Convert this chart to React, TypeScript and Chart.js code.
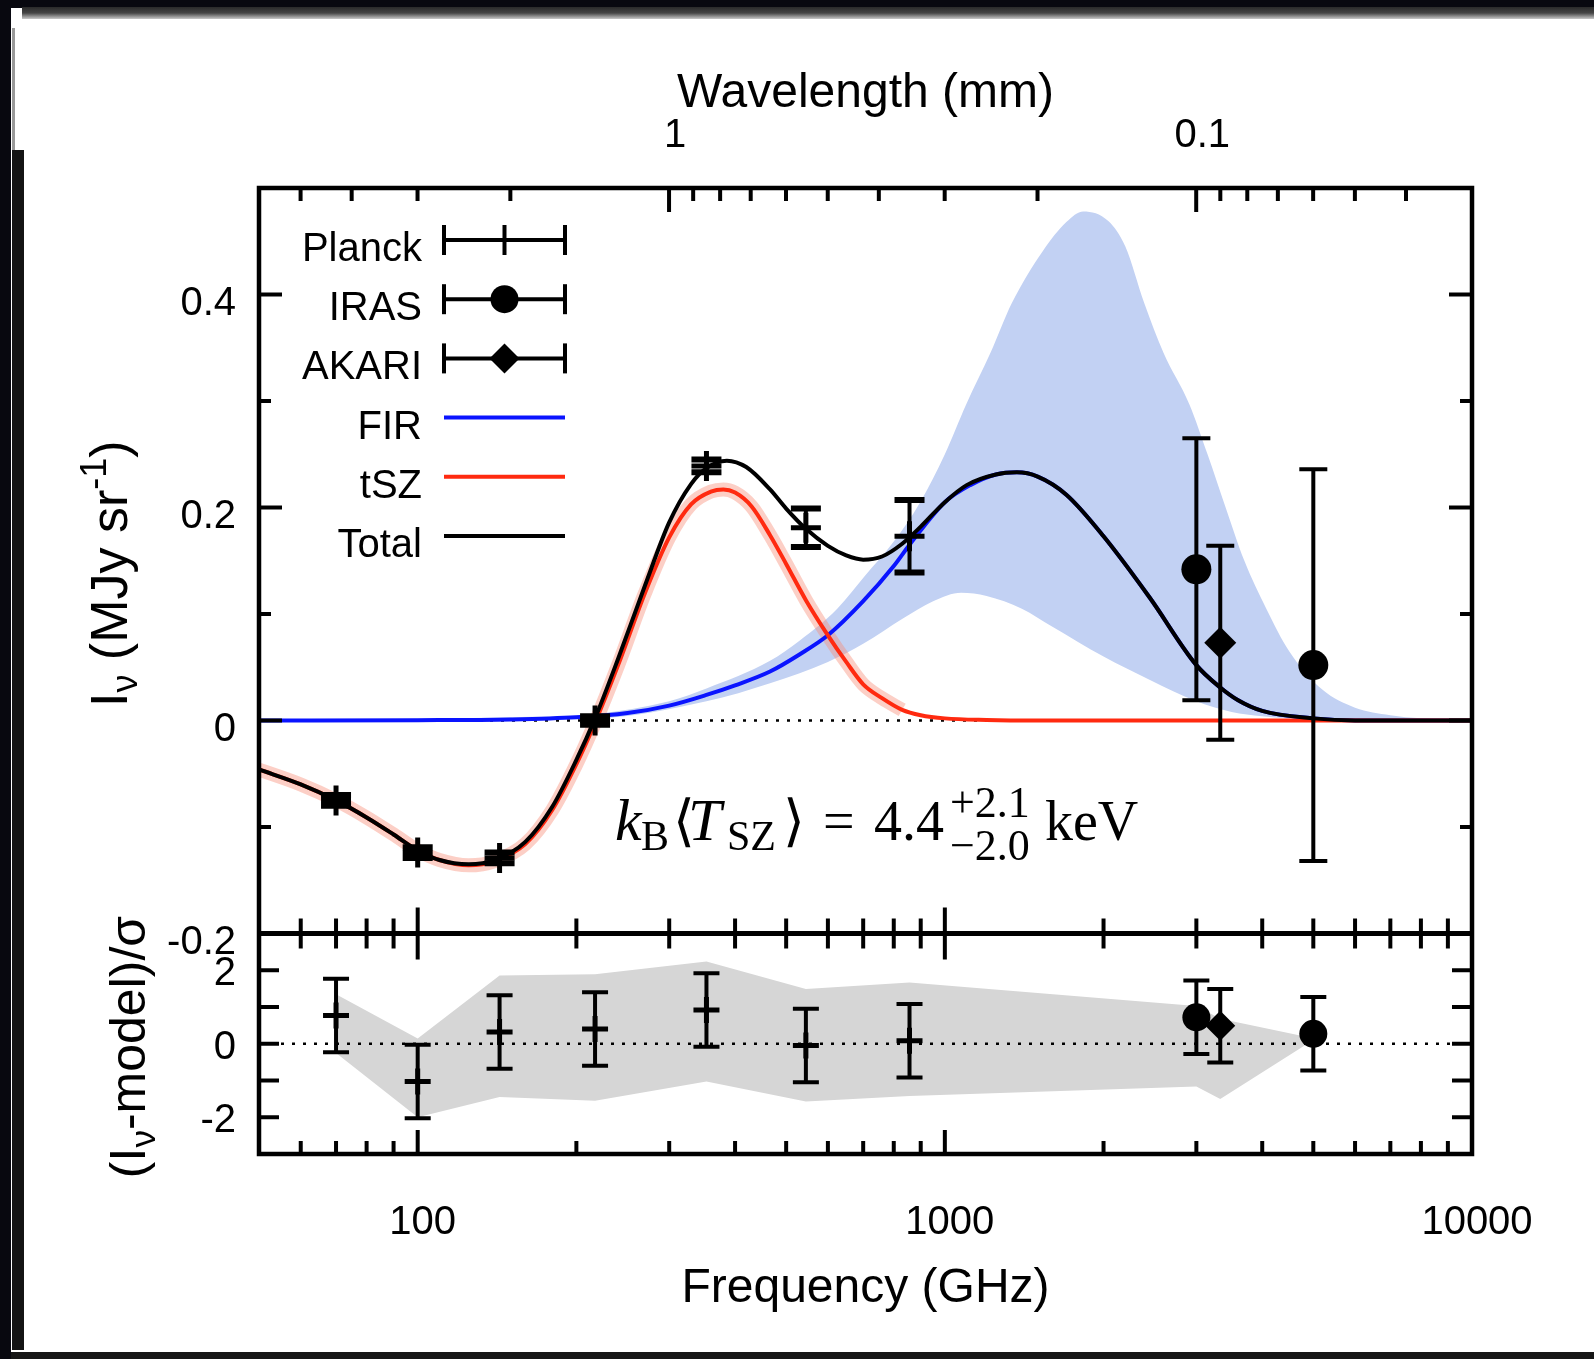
import React, { useEffect, useRef } from "react";
import { Chart, registerables } from "chart.js";
Chart.register(...registerables);

const W = 1594;
const H = 1359;
const SANS = "'Liberation Sans', Arial, Helvetica, sans-serif";
const SERIF = "'Liberation Serif', 'Times New Roman', 'DejaVu Serif', serif";
const MATH = "'Liberation Serif', 'DejaVu Serif', 'DejaVu Sans', serif";

// ---------- axes ----------
const freqMin = 50;
const freqMax = 10000;
const freqTickLabels = [100, 1000, 10000];
const freqMajorTicks = [100, 1000];
const freqMinorTicks = [60, 70, 80, 90, 200, 300, 400, 500, 600, 700, 800, 900, 2000, 3000, 4000, 5000, 6000, 7000, 8000, 9000];
const wlTickValues = [1, 0.1]; // mm
const wlTickLabels = ["1", "0.1"];
const wlMinorTicks = [5, 4, 3, 2, 0.9, 0.8, 0.7, 0.6, 0.5, 0.4, 0.3, 0.2, 0.09, 0.08, 0.07, 0.06, 0.05, 0.04];
const C_MM_GHZ = 299.792458;
const yTopMin = -0.2;
const yTopMax = 0.5;
const yTopLabels = [-0.2, 0, 0.2, 0.4];
const yTopMinor = [-0.1, 0.1, 0.3];
const yResMin = -3;
const yResMax = 3;
const yResLabels = [-2, 0, 2];
const yResMinor = [-1, 1];

// ---------- data points ----------
const planckFreq = [70, 100, 143, 217, 353, 545, 857];
const planckI = [-0.075, -0.124, -0.129, 0.0, 0.239, 0.181, 0.173];
const planckErr = [0.005, 0.005, 0.005, 0.004, 0.006, 0.018, 0.034];
const irasFreq = [3000, 5000];
const irasI = [0.142, 0.052];
const irasErr = [0.123, 0.184];
const akariFreq = [3330];
const akariI = [0.073];
const akariErr = [0.091];

// residuals (I - model)/sigma
const planckRes = [0.77, -1.03, 0.32, 0.4, 0.92, -0.05, 0.08];
const irasRes = [0.72, 0.27];
const akariRes = [0.49];
const resErr = 1;
const resBandFreq = [70, 100, 143, 217, 353, 545, 857, 3000, 3330, 5000];
const resBandUpper = [1.35, 0.14, 1.86, 1.89, 2.24, 1.49, 1.67, 1.03, 0.68, 0.15];
const resBandLower = [-0.25, -2.0, -1.45, -1.55, -1.03, -1.57, -1.42, -1.16, -1.5, 0.1];

// ---------- model curves ----------
const tszFreq = [50, 60, 70, 80, 90, 100, 110, 125, 140, 160, 180, 200, 217, 240, 270, 300, 330, 360, 380, 400, 430, 466, 500, 545, 600, 650, 700, 760, 830, 900, 1000, 1200, 1500, 2000, 10000];
const tszI = [-0.046, -0.06, -0.075, -0.091, -0.107, -0.122, -0.131, -0.136, -0.132, -0.116, -0.084, -0.041, -0.002, 0.052, 0.12, 0.172, 0.203, 0.215, 0.217, 0.214, 0.201, 0.174, 0.147, 0.113, 0.08, 0.055, 0.034, 0.021, 0.01, 0.005, 0.002, 0.0005, 0, 0, 0];
const tszHaloCount = 29; // the uncertainty halo is only visible where the tSZ signal is

const firFreq = [50, 100, 150, 200, 250, 300, 353, 400, 466, 530, 600, 700, 800, 860, 1000, 1117, 1250, 1370, 1500, 1700, 2000, 2450, 3000, 3330, 3600, 4000, 5000, 6000, 10000];
const firI = [0.0, 0.0003, 0.001, 0.003, 0.007, 0.014, 0.024, 0.033, 0.046, 0.062, 0.08, 0.112, 0.145, 0.166, 0.205, 0.221, 0.231, 0.233, 0.229, 0.212, 0.173, 0.115, 0.052, 0.031, 0.019, 0.009, 0.002, 0.0, 0.0];

const totalFreq = [50, 60, 70, 80, 90, 100, 110, 125, 140, 160, 180, 200, 217, 240, 270, 300, 330, 353, 386, 420, 466, 500, 545, 600, 650, 700, 760, 830, 900, 1000, 1100, 1250, 1370, 1500, 1700, 2000, 2450, 3000, 3330, 3600, 4000, 5000, 6000, 10000];
const totalI = [-0.046, -0.06, -0.075, -0.091, -0.107, -0.122, -0.131, -0.135, -0.131, -0.114, -0.081, -0.037, 0.002, 0.058, 0.127, 0.186, 0.222, 0.237, 0.244, 0.238, 0.217, 0.199, 0.18, 0.164, 0.155, 0.151, 0.154, 0.166, 0.182, 0.205, 0.221, 0.231, 0.233, 0.229, 0.212, 0.173, 0.115, 0.052, 0.031, 0.019, 0.009, 0.002, 0.0, 0.0];

const firBandFreqU = [50, 150, 217, 300, 353, 466, 530, 625, 703, 800, 898, 1000, 1098, 1220, 1340, 1530, 1700, 1830, 2042, 2200, 2389, 2600, 2909, 3150, 3404, 3700, 4072, 4500, 5200, 6000, 7000, 8000, 10000];
const firBandU = [0.0005, 0.003, 0.006, 0.018, 0.03, 0.056, 0.075, 0.105, 0.135, 0.168, 0.205, 0.25, 0.297, 0.345, 0.392, 0.44, 0.468, 0.478, 0.469, 0.445, 0.392, 0.345, 0.297, 0.25, 0.201, 0.15, 0.105, 0.065, 0.029, 0.012, 0.005, 0.002, 0.0];
const firBandFreqL = [50, 217, 353, 466, 600, 700, 834, 950, 1074, 1200, 1400, 1600, 2000, 2450, 3000, 3500, 4000, 5000, 10000];
const firBandL = [0.0, 0.002, 0.018, 0.035, 0.055, 0.072, 0.096, 0.112, 0.12, 0.117, 0.105, 0.088, 0.06, 0.038, 0.018, 0.008, 0.004, 0.001, 0.0];

const legendLabels = ["Planck", "IRAS", "AKARI", "FIR", "tSZ", "Total"];

// ---------- helpers ----------
const mk = (xs: number[], ys: number[]) => xs.map((x, i) => ({ x, y: ys[i] }));

const BLUE = "#0a14ff";
const RED = "#ff2a10";

function lineDs(label: string, data: any[], color: string, width: number, order: number, extra: any = {}) {
  return {
    label,
    data,
    borderColor: color,
    borderWidth: width,
    pointRadius: 0,
    fill: false,
    cubicInterpolationMode: "monotone",
    order,
    clip: 0,
    xAxisID: "x",
    yAxisID: "y",
    ...extra,
  };
}

function pointDs(label: string, data: any[], style: string, radius: number, yAxisID: string, order: number) {
  const isCross = style === "cross";
  return {
    label,
    data,
    showLine: false,
    pointStyle: style,
    pointRadius: radius,
    pointBorderWidth: isCross ? 5 : 0,
    pointBorderColor: "#000",
    pointBackgroundColor: "#000",
    order,
    xAxisID: "x",
    yAxisID,
  };
}

type Seg = { t: string; font: string; dy?: number };
function drawSegs(ctx: CanvasRenderingContext2D, segs: Seg[], x: number, y: number, draw = true) {
  let cx = x;
  for (const s of segs) {
    ctx.font = s.font;
    if (draw) ctx.fillText(s.t, cx, y + (s.dy || 0));
    cx += ctx.measureText(s.t).width;
  }
  return cx - x;
}

const pagePlugin = {
  id: "page",
  beforeDraw(chart: any) {
    const ctx = chart.ctx as CanvasRenderingContext2D;
    ctx.save();
    ctx.fillStyle = "#08080f";
    ctx.fillRect(0, 0, W, H);
    ctx.fillStyle = "#ffffff";
    ctx.fillRect(11, 8, W - 11, 1345);
    const g = ctx.createLinearGradient(0, 7, 0, 19);
    g.addColorStop(0, "#2a2a2a");
    g.addColorStop(0.5, "#454545");
    g.addColorStop(1, "#c8c8c8");
    ctx.fillStyle = g;
    ctx.fillRect(22, 7, W - 22, 12);
    ctx.fillStyle = "#9a9a9a";
    ctx.fillRect(12, 28, 3, 125);
    ctx.fillStyle = "#141414";
    ctx.fillRect(12, 150, 12, 1200);
    ctx.fillStyle = "#161616";
    ctx.fillRect(11, 1352, W - 11, 7);
    ctx.restore();
  },
};

const errorBarPlugin = {
  id: "errbars",
  afterDatasetsDraw(chart: any) {
    const ctx = chart.ctx as CanvasRenderingContext2D;
    const xs = chart.scales.x;
    const ys = chart.scales.y;
    const yr = chart.scales.y2;
    ctx.save();
    ctx.strokeStyle = "#000";
    ctx.lineCap = "butt";
    const bar = (f: number, v: number, e: number, sc: any, cap: number, capW: number) => {
      const px = xs.getPixelForValue(f);
      const t = sc.getPixelForValue(v + e);
      const b = sc.getPixelForValue(v - e);
      ctx.lineWidth = 4;
      ctx.beginPath();
      ctx.moveTo(px, t);
      ctx.lineTo(px, b);
      ctx.stroke();
      ctx.lineWidth = capW;
      ctx.beginPath();
      ctx.moveTo(px - cap, t);
      ctx.lineTo(px + cap, t);
      ctx.moveTo(px - cap, b);
      ctx.lineTo(px + cap, b);
      ctx.stroke();
    };
    planckFreq.forEach((f, i) => bar(f, planckI[i], planckErr[i], ys, 15, 6));
    irasFreq.forEach((f, i) => bar(f, irasI[i], irasErr[i], ys, 14, 4));
    akariFreq.forEach((f, i) => bar(f, akariI[i], akariErr[i], ys, 14, 4));
    planckFreq.forEach((f, i) => bar(f, planckRes[i], resErr, yr, 13, 4));
    irasFreq.forEach((f, i) => bar(f, irasRes[i], resErr, yr, 13, 4));
    akariFreq.forEach((f, i) => bar(f, akariRes[i], resErr, yr, 13, 4));
    ctx.restore();
  },
};

const framePlugin = {
  id: "frame",
  afterDraw(chart: any) {
    const ctx = chart.ctx as CanvasRenderingContext2D;
    const xs = chart.scales.x;
    const xt = chart.scales.xTop;
    const ys = chart.scales.y;
    const yr = chart.scales.y2;
    const L = xs.left;
    const R = xs.right;
    const T = ys.top;
    const S = ys.bottom;
    const B = yr.bottom;
    ctx.save();
    ctx.strokeStyle = "#000";
    ctx.fillStyle = "#000";
    ctx.lineCap = "butt";
    const seg = (x1: number, y1: number, x2: number, y2: number) => {
      ctx.beginPath();
      ctx.moveTo(x1, y1);
      ctx.lineTo(x2, y2);
      ctx.stroke();
    };
    ctx.lineWidth = 4;
    for (const f of freqMinorTicks) {
      const px = xs.getPixelForValue(f);
      seg(px, S - 15, px, S + 15);
      seg(px, B, px, B - 13);
    }
    for (const f of freqMajorTicks) {
      const px = xs.getPixelForValue(f);
      seg(px, S - 26, px, S + 26);
      seg(px, B, px, B - 24);
    }
    for (const w of wlMinorTicks) {
      const px = xt.getPixelForValue(C_MM_GHZ / w);
      seg(px, T, px, T + 13);
    }
    for (const w of wlTickValues) {
      const px = xt.getPixelForValue(C_MM_GHZ / w);
      seg(px, T, px, T + 24);
    }
    for (const v of yTopLabels) {
      const py = ys.getPixelForValue(v);
      seg(L, py, L + 23, py);
      seg(R, py, R - 23, py);
    }
    for (const v of yTopMinor) {
      const py = ys.getPixelForValue(v);
      seg(L, py, L + 12, py);
      seg(R, py, R - 12, py);
    }
    for (const v of [...yResLabels, ...yResMinor]) {
      const py = yr.getPixelForValue(v);
      seg(L, py, L + 20, py);
      seg(R, py, R - 20, py);
    }
    ctx.lineWidth = 4.5;
    ctx.strokeRect(L, T, R - L, B - T);
    ctx.lineWidth = 5;
    seg(L, S, R, S);

    // legend
    ctx.textAlign = "right";
    ctx.textBaseline = "alphabetic";
    ctx.font = `40px ${SANS}`;
    const sx0 = 444;
    const sx1 = 565;
    const sxc = (sx0 + sx1) / 2;
    legendLabels.forEach((name, i) => {
      const yy = 240 + i * 59.2;
      ctx.fillStyle = "#000";
      ctx.fillText(name, 422, yy + 21);
      ctx.lineWidth = 4;
      if (i < 3) {
        ctx.strokeStyle = "#000";
        seg(sx0, yy, sx1, yy);
        seg(sx0, yy - 15, sx0, yy + 15);
        seg(sx1, yy - 15, sx1, yy + 15);
        if (i === 0) seg(sxc, yy - 15, sxc, yy + 15);
        if (i === 1) {
          ctx.beginPath();
          ctx.arc(sxc, yy, 14, 0, Math.PI * 2);
          ctx.fill();
        }
        if (i === 2) {
          ctx.beginPath();
          ctx.moveTo(sxc, yy - 15);
          ctx.lineTo(sxc + 15, yy);
          ctx.lineTo(sxc, yy + 15);
          ctx.lineTo(sxc - 15, yy);
          ctx.closePath();
          ctx.fill();
        }
      } else {
        ctx.strokeStyle = i === 3 ? BLUE : i === 4 ? RED : "#000";
        seg(sx0, yy, sx1, yy);
      }
    });

    // axis titles
    ctx.fillStyle = "#000";
    ctx.textAlign = "center";
    ctx.font = `48px ${SANS}`;
    ctx.fillText("Frequency (GHz)", (L + R) / 2, 1302);
    ctx.fillText("Wavelength (mm)", (L + R) / 2, 107);

    ctx.textAlign = "left";
    const f52 = `52px ${SANS}`;
    const f36 = `36px ${SANS}`;
    const yTitle: Seg[] = [
      { t: "I", font: f52 },
      { t: "ν", font: f36, dy: 10 },
      { t: " (MJy sr", font: f52 },
      { t: "-1", font: f36, dy: -21 },
      { t: ")", font: f52 },
    ];
    ctx.save();
    ctx.translate(127, (T + S) / 2 + 13);
    ctx.rotate(-Math.PI / 2);
    let w = drawSegs(ctx, yTitle, 0, 0, false);
    drawSegs(ctx, yTitle, -w / 2, 0);
    ctx.restore();
    const f50 = `50px ${SANS}`;
    const f35 = `35px ${SANS}`;
    const rTitle: Seg[] = [
      { t: "(I", font: f50 },
      { t: "ν", font: f35, dy: 10 },
      { t: "-model)/σ", font: f50 },
    ];
    ctx.save();
    ctx.translate(145, 1047);
    ctx.rotate(-Math.PI / 2);
    w = drawSegs(ctx, rTitle, 0, 0, false);
    drawSegs(ctx, rTitle, -w / 2, 0);
    ctx.restore();

    // formula
    const base = 840;
    const put = (t: string, x: number, y: number, font: string) => {
      ctx.font = font;
      ctx.fillText(t, x, y);
    };
    const m56 = `56px ${SERIF}`;
    const i58 = `italic 60px ${SERIF}`;
    const s42 = `42px ${SERIF}`;
    const s44 = `44px ${SERIF}`;
    put("k", 615, base, i58);
    put("B", 641, base + 10, s42);
    put("⟨", 673, base, `56px ${MATH}`);
    put("T", 688, base, i58);
    put("SZ", 727, base + 10, s42);
    put("⟩", 783, base, `56px ${MATH}`);
    put("=", 823, base, m56);
    put("4.4", 874, base, m56);
    put("+2.1", 950, base - 23, s44);
    put("−2.0", 950, base + 20, s44);
    put("keV", 1045, base, m56);
    ctx.restore();
  },
};

export default function App() {
  const ref = useRef<HTMLCanvasElement | null>(null);
  useEffect(() => {
    const canvas = ref.current;
    if (!canvas) return;
    const tickFont = { family: SANS, size: 40 };
    const chart = new Chart(canvas, {
      type: "line",
      data: {
        datasets: [
          lineDs("firBandU", mk(firBandFreqU, firBandU), "rgba(0,0,0,0)", 0, 30, { fill: "+1", backgroundColor: "#c2d1f3" }),
          lineDs("firBandL", mk(firBandFreqL, firBandL), "rgba(0,0,0,0)", 0, 30),
          lineDs("zeroTop", mk([freqMin, freqMax], [0, 0]), "#000", 2.5, 25, { borderDash: [3, 8], cubicInterpolationMode: "default" }),
          lineDs("tszBand", mk(tszFreq.slice(0, tszHaloCount), tszI.slice(0, tszHaloCount)), "rgba(247,140,120,0.42)", 14, 24),
          lineDs("FIR", mk(firFreq, firI), BLUE, 4, 22),
          lineDs("tSZ", mk(tszFreq, tszI), RED, 4, 21),
          lineDs("Total", mk(totalFreq, totalI), "#000", 4, 20),
          pointDs("Planck", mk(planckFreq, planckI), "cross", 15, "y", 5),
          pointDs("IRAS", mk(irasFreq, irasI), "circle", 15, "y", 4),
          pointDs("AKARI", mk(akariFreq, akariI), "rectRot", 16, "y", 4),
          lineDs("resBandU", mk(resBandFreq, resBandUpper), "rgba(0,0,0,0)", 0, 30, { yAxisID: "y2", fill: "+1", backgroundColor: "#d6d6d6", cubicInterpolationMode: "default" }),
          lineDs("resBandL", mk(resBandFreq, resBandLower), "rgba(0,0,0,0)", 0, 30, { yAxisID: "y2", cubicInterpolationMode: "default" }),
          lineDs("zeroRes", mk([freqMin, freqMax], [0, 0]), "#000", 2.5, 25, { yAxisID: "y2", borderDash: [3, 8], cubicInterpolationMode: "default" }),
          pointDs("PlanckRes", mk(planckFreq, planckRes), "cross", 13, "y2", 5),
          pointDs("IRASRes", mk(irasFreq, irasRes), "circle", 14, "y2", 4),
          pointDs("AKARIRes", mk(akariFreq, akariRes), "rectRot", 15, "y2", 4),
        ] as any,
      },
      options: {
        responsive: false,
        animation: false,
        devicePixelRatio: 1,
        events: [],
        layout: { padding: { left: 0, right: 122, top: 0, bottom: 0 }, autoPadding: false },
        plugins: { legend: { display: false }, tooltip: { enabled: false } },
        scales: {
          x: {
            type: "logarithmic",
            position: "bottom",
            min: freqMin,
            max: freqMax,
            grid: { display: false, drawTicks: false },
            border: { display: false },
            afterBuildTicks: (s: any) => {
              s.ticks = freqTickLabels.map((v) => ({ value: v }));
            },
            afterFit: (s: any) => {
              s.height = 205;
            },
            ticks: { autoSkip: false, maxRotation: 0, padding: 45, labelOffset: 5, color: "#000", font: tickFont, callback: (v: any) => String(v) },
          },
          xTop: {
            type: "logarithmic",
            position: "top",
            min: freqMin,
            max: freqMax,
            grid: { display: false, drawTicks: false },
            border: { display: false },
            afterBuildTicks: (s: any) => {
              s.ticks = wlTickValues.map((w) => ({ value: C_MM_GHZ / w }));
            },
            afterFit: (s: any) => {
              s.height = 188;
            },
            ticks: {
              autoSkip: false,
              maxRotation: 0,
              padding: 28,
              labelOffset: 6,
              color: "#000",
              font: tickFont,
              callback: (_v: any, i: number) => wlTickLabels[i],
            },
          },
          y2: {
            type: "linear",
            position: "left",
            stack: "panels",
            stackWeight: 220.5,
            min: yResMin,
            max: yResMax,
            grid: { display: false, drawTicks: false },
            border: { display: false },
            afterBuildTicks: (s: any) => {
              s.ticks = yResLabels.map((v) => ({ value: v }));
            },
            afterFit: (s: any) => {
              s.width = 259;
            },
            ticks: { autoSkip: false, padding: 23, labelOffset: 4, color: "#000", font: tickFont, callback: (v: any) => String(v) },
          },
          y: {
            type: "linear",
            position: "left",
            stack: "panels",
            stackWeight: 745.5,
            min: yTopMin,
            max: yTopMax,
            grid: { display: false, drawTicks: false },
            border: { display: false },
            afterBuildTicks: (s: any) => {
              s.ticks = yTopLabels.map((v) => ({ value: v }));
            },
            afterFit: (s: any) => {
              s.width = 259;
            },
            ticks: {
              autoSkip: false,
              padding: 23,
              labelOffset: 9,
              color: "#000",
              font: tickFont,
              callback: (v: any) => (Number(v) === 0 ? "0" : Number(v).toFixed(1)),
            },
          },
        } as any,
      },
      plugins: [pagePlugin, errorBarPlugin, framePlugin],
    } as any);
    return () => chart.destroy();
  }, []);
  return (
    <div style={{ position: "absolute", left: 0, top: 0, width: W, height: H, overflow: "hidden" }}>
      <canvas ref={ref} width={W} height={H} style={{ display: "block", width: W, height: H }} />
    </div>
  );
}
